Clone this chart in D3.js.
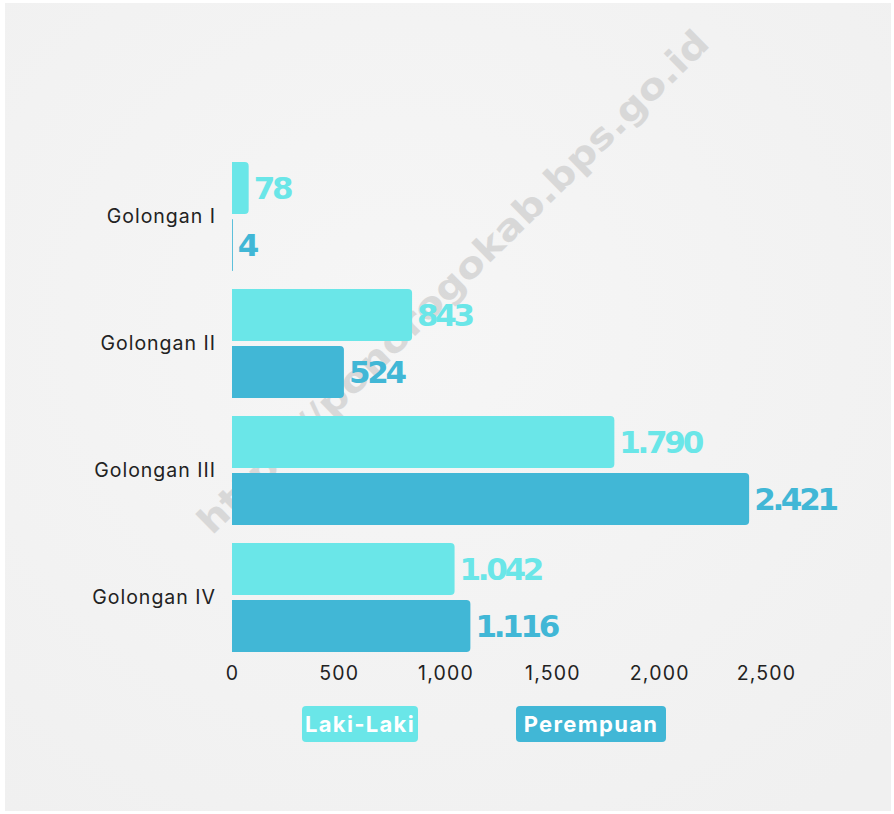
<!DOCTYPE html>
<html><head><meta charset="utf-8">
<script src="https://cdn.jsdelivr.net/npm/d3@7"></script>
<style>
html,body{margin:0;padding:0;background:#ffffff;}
svg{display:block;}
</style></head>
<body>
<svg id="chart" width="894" height="814"></svg>
<script>
const categories = ["Golongan I", "Golongan II", "Golongan III", "Golongan IV"];
const seriesNames = ["Laki-Laki", "Perempuan"];
const lakiLaki = [78, 843, 1790, 1042];
const perempuan = [4, 524, 2421, 1116];
const xTicks = [0, 500, 1000, 1500, 2000, 2500];
const watermark = "https://ponorogokab.bps.go.id";

const colors = {"Laki-Laki": "#6ae6e8", "Perempuan": "#41b7d6"};
const rows = categories.map((c, i) => ({cat: c, values: [
  {key: "Laki-Laki", value: lakiLaki[i]},
  {key: "Perempuan", value: perempuan[i]}
]}));

const svg = d3.select("#chart");
const defs = svg.append("defs");
const rg = defs.append("radialGradient").attr("id","bg").attr("cx","45%").attr("cy","40%").attr("r","75%");
rg.append("stop").attr("offset","0%").attr("stop-color","#f6f6f6");
rg.append("stop").attr("offset","100%").attr("stop-color","#f0f0f0");
svg.append("rect").attr("x",5).attr("y",3).attr("width",886).attr("height",808).attr("fill","url(#bg)");

// watermark
svg.append("text")
  .attr("transform","translate(212,536) rotate(-44.5)")
  .attr("font-family","'DejaVu Sans', sans-serif").attr("font-weight",700)
  .attr("font-size",36).attr("fill","#d2d2d2").attr("opacity",0.8)
  .attr("textLength", 700).attr("lengthAdjust","spacingAndGlyphs")
  .text(watermark);

const x = d3.scaleLinear().domain([0, 2500]).range([232, 766]);
const p = 18/127;
const y0 = d3.scaleBand().domain(categories).range([153, 661]).paddingInner(p).paddingOuter(p/2);
const y1 = d3.scaleBand().domain(seriesNames).range([0, y0.bandwidth()]).paddingInner(2 - y0.bandwidth()/57);

function barPath(x0, x1, yt, h, r) {
  const w = x1 - x0;
  r = Math.min(r, w, h/2);
  return `M${x0},${yt}H${x1-r}Q${x1},${yt} ${x1},${yt+r}V${yt+h-r}Q${x1},${yt+h} ${x1-r},${yt+h}H${x0}Z`;
}

const fmtId = d3.formatLocale({decimal: ",", thousands: ".", grouping: [3], currency: ["Rp",""]}).format(",d");

const g = svg.append("g");
const groups = g.selectAll("g.grp").data(rows).join("g").attr("class","grp")
  .attr("transform", d => `translate(0,${y0(d.cat)})`);

groups.selectAll("path").data(d => d.values).join("path")
  .attr("d", d => barPath(x(0), x(d.value), y1(d.key), y1.bandwidth(), 4))
  .attr("fill", d => colors[d.key]);

groups.selectAll("text.val").data(d => d.values).join("text").attr("class","val")
  .attr("x", d => x(d.value) + 5)
  .attr("y", d => y1(d.key) + y1.bandwidth()/2)
  .attr("dy","0.36em")
  .attr("font-family","'DejaVu Sans', sans-serif").attr("font-weight",700)
  .attr("font-size",31).attr("letter-spacing",-3.3)
  .attr("fill", d => colors[d.key])
  .text(d => fmtId(d.value));

// y labels
svg.append("g").selectAll("text").data(categories).join("text")
  .attr("x", 216).attr("y", d => y0(d) + y0.bandwidth()/2)
  .attr("dy","0.35em").attr("text-anchor","end")
  .attr("font-family","Inter, sans-serif").attr("font-size",19.5).attr("letter-spacing",1).attr("fill","#222")
  .text(d => d);

// x axis
const xAxis = svg.append("g").attr("transform","translate(0,661)")
  .call(d3.axisBottom(x).tickValues(xTicks).tickFormat(d3.format(",")).tickSize(0).tickPadding(5));
xAxis.select(".domain").remove();
xAxis.selectAll("text").attr("font-family","Inter, sans-serif").attr("font-size",19.5).attr("letter-spacing",1.2).attr("fill","#222");

// legend
const legendItems = [
  {key:"Laki-Laki", x:302, w:116},
  {key:"Perempuan", x:516, w:150}
];
const lg = svg.append("g").selectAll("g").data(legendItems).join("g")
  .attr("transform", d => `translate(${d.x},706)`);
lg.append("rect").attr("width", d => d.w).attr("height",36).attr("rx",4).attr("fill", d => colors[d.key]);
lg.append("text").attr("x", d => d.w/2).attr("y",18).attr("dy","0.36em").attr("text-anchor","middle")
  .attr("font-family","Inter, sans-serif").attr("font-weight",700).attr("font-size",22)
  .attr("letter-spacing",1.3).attr("fill","#fff").text(d => d.key);
</script>
</body></html>
